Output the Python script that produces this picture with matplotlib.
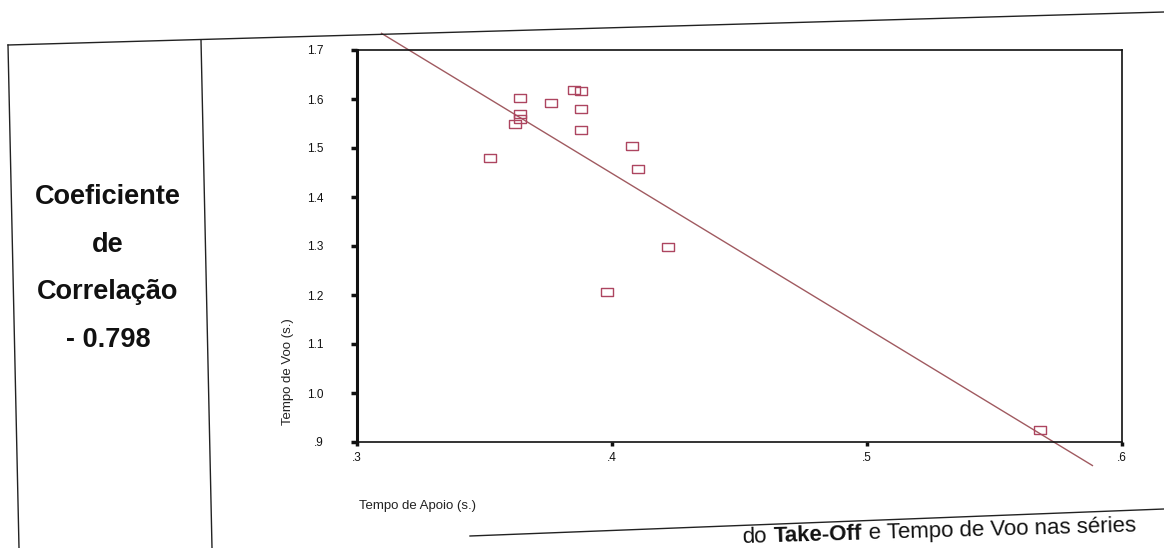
import numpy as np
import matplotlib
matplotlib.use('Agg')
import matplotlib.pyplot as plt
from matplotlib.lines import Line2D

plt.rcParams['font.family'] = ['Liberation Sans', 'DejaVu Sans']

# valores (Tempo de Apoio x Tempo de Voo)
tempo_apoio = [0.352, 0.362, 0.364, 0.364, 0.364, 0.376, 0.385, 0.388,
               0.388, 0.388, 0.408, 0.410, 0.422, 0.398, 0.568]
tempo_voo = [1.480, 1.548, 1.603, 1.569, 1.559, 1.591, 1.618, 1.616,
             1.580, 1.536, 1.505, 1.458, 1.298, 1.207, 0.925]
# recta de regressao (extremos lidos)
fit_x = [0.3096, 0.5884]
fit_y = [1.734, 0.852]

x_ticks = [0.3, 0.4, 0.5, 0.6]
x_labels = ['.3', '.4', '.5', '.6']
y_ticks = [0.9, 1.0, 1.1, 1.2, 1.3, 1.4, 1.5, 1.6, 1.7]
y_labels = ['.9', '1.0', '1.1', '1.2', '1.3', '1.4', '1.5', '1.6', '1.7']

coef_linhas = ['Coeficiente', 'de', 'Correlação', '- 0.798']

W, H = 1164, 548
fig = plt.figure(figsize=(W / 100, H / 100), dpi=100)

def px(x, y):
    return x / W, 1 - y / H

# linhas da tabela (ligeiramente inclinadas como no digitalizado)
for (x0, y0), (x1, y1) in [((8, 45), (1164, 12)),
                           ((8, 45), (19, 548)),
                           ((201, 40), (212, 548)),
                           ((470, 536), (1164, 509))]:
    a, b = px(x0, y0)
    c, d = px(x1, y1)
    fig.add_artist(Line2D([a, c], [b, d], color='#222222', lw=1.0))

# texto da coluna da esquerda
for yy, t in zip([197, 245, 292, 340], coef_linhas):
    fig.text(*px(108, yy), t, ha='center', va='center', fontsize=19.5,
             fontweight='bold', color='#111111')

# legenda no fundo
fig.text(*px(742, 543), 'do', ha='left', va='baseline', fontsize=16,
         rotation=1.6, color='#111111')
fig.text(*px(773, 542.1), 'Take-Off', ha='left', va='baseline', fontsize=16,
         fontweight='bold', rotation=1.6, color='#111111')
fig.text(*px(868, 539.5), 'e Tempo de Voo nas séries', ha='left', va='baseline',
         fontsize=16, rotation=1.6, color='#111111')

# grafico de dispersao
ax = fig.add_axes([357 / W, 1 - 442 / H, (1122 - 357) / W, (442 - 50) / H])
ax.plot(fit_x, fit_y, color='#a05a60', lw=1.0, clip_on=False, zorder=2)
rect = [(-1.5, -1), (1.5, -1), (1.5, 1), (-1.5, 1), (-1.5, -1)]
ax.plot(tempo_apoio, tempo_voo, linestyle='none', marker=rect, markersize=8,
        markerfacecolor='none', markeredgecolor='#ad4560', markeredgewidth=1.0,
        zorder=3)

ax.set_xlim(0.3, 0.6)
ax.set_ylim(0.9, 1.7)
ax.set_xticks(x_ticks)
ax.set_xticklabels(x_labels)
ax.set_yticks(y_ticks)
ax.set_yticklabels(y_labels)
ax.tick_params(axis='y', direction='out', length=4, width=2.5, pad=20,
               labelsize=8.5, colors='#111111')
ax.tick_params(axis='x', direction='out', length=3, width=2.5, pad=4,
               labelsize=8.5, colors='#111111')
for s in ['top', 'right', 'bottom']:
    ax.spines[s].set_linewidth(1.2)
    ax.spines[s].set_color('#111111')
ax.spines['left'].set_linewidth(2.2)
ax.spines['left'].set_color('#111111')

fig.text(*px(288, 372), 'Tempo de Voo (s.)', rotation=90, ha='center',
         va='center', fontsize=9.5, color='#222222')
fig.text(*px(359, 506), 'Tempo de Apoio (s.)', ha='left', va='center',
         fontsize=9.5, color='#222222')

fig.savefig('out.png', dpi=100)
